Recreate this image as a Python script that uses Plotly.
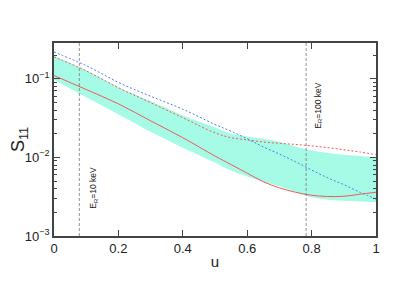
import math
import plotly.graph_objects as go

u_band = [0, 0.1, 0.2, 0.3, 0.4, 0.5, 0.55, 0.6, 0.65, 0.7, 0.75, 0.8, 0.85, 0.9, 0.95, 1.0]
band_top = [0.195, 0.128, 0.078, 0.052, 0.034, 0.024, 0.0200, 0.0185, 0.0172, 0.0158, 0.0138, 0.0122, 0.0114, 0.0108, 0.0104, 0.0100]
band_bot = [0.097, 0.058, 0.0355, 0.0212, 0.0133, 0.0086, 0.0068, 0.0057, 0.0049, 0.0043, 0.0036, 0.0031, 0.0029, 0.0028, 0.00275, 0.0027]

u_line = [0, 0.1, 0.2, 0.3, 0.4, 0.5, 0.55, 0.6, 0.65, 0.7, 0.75, 0.8, 0.85, 0.9, 0.95, 1.0]
red_solid = [0.110, 0.073, 0.048, 0.0292, 0.0178, 0.0104, 0.0081, 0.0063, 0.0049, 0.0041, 0.0036, 0.0033, 0.00318, 0.0032, 0.0034, 0.0036]
red_dash = [0.190, 0.126, 0.077, 0.0497, 0.032, 0.0205, 0.0178, 0.0167, 0.0157, 0.0151, 0.0146, 0.0140, 0.0133, 0.0125, 0.0117, 0.0108]
blue_dash = [0.219, 0.147, 0.090, 0.060, 0.041, 0.0262, 0.0215, 0.0172, 0.0136, 0.0110, 0.0088, 0.0069, 0.0055, 0.0045, 0.0036, 0.00295]

vlines = [0.0787, 0.783]
vlabels = ["E<sub>R</sub>=10 keV", "E<sub>R</sub>=100 keV"]
label_pos = [(0.124, 0.0041), (0.819, 0.045)]

x_ticks = [0, 0.2, 0.4, 0.6, 0.8, 1]
x_labels = ["0", "0.2", "0.4", "0.6", "0.8", "1"]
y_ticks = [0.001, 0.01, 0.1]
y_labels = ["10<sup>−3</sup>", "10<sup>−2</sup>", "10<sup>−1</sup>"]

FONT = "Liberation Sans, Arial, sans-serif"

fig = go.Figure()
fig.add_trace(go.Scatter(x=u_band, y=band_bot, mode="lines", line=dict(width=0, color="#a5fbe5"),
                         line_shape="spline", showlegend=False, hoverinfo="skip"))
fig.add_trace(go.Scatter(x=u_band, y=band_top, mode="lines", line=dict(width=0, color="#a5fbe5"),
                         line_shape="spline", fill="tonexty", fillcolor="#a5fbe5", showlegend=False, hoverinfo="skip"))
fig.add_trace(go.Scatter(x=u_line, y=blue_dash, mode="lines", line=dict(color="#4f7fe8", width=1, dash="2px,2px"),
                         line_shape="spline", showlegend=False))
fig.add_trace(go.Scatter(x=u_line, y=red_dash, mode="lines", line=dict(color="#f05a5a", width=1, dash="2px,2px"),
                         line_shape="spline", showlegend=False))
fig.add_trace(go.Scatter(x=u_line, y=red_solid, mode="lines", line=dict(color="#f05a5a", width=1),
                         line_shape="spline", showlegend=False))

for xv in vlines:
    fig.add_shape(type="line", x0=xv, x1=xv, y0=0, y1=1, xref="x", yref="paper",
                  line=dict(color="#777777", width=0.8, dash="3px,2px"))
for (xp, yp), txt in zip(label_pos, vlabels):
    fig.add_annotation(x=xp, y=math.log10(yp), yref="y", xref="x", text=txt, showarrow=False, textangle=-90,
                       font=dict(size=8.5, color="#222222", family=FONT))

axis_common = dict(showline=True, linecolor="#444444", linewidth=1.5, mirror="allticks",
                   ticks="inside", tickcolor="#444444", showgrid=False, zeroline=False, automargin=False,
                   tickfont=dict(size=13, color="#222222", family=FONT))

fig.update_xaxes(range=[0, 1], tickvals=x_ticks, ticktext=x_labels, ticklen=6, tickwidth=1.2,
                 title=dict(text="u", font=dict(size=15, color="#222222", family=FONT), standoff=1),
                 **axis_common)
fig.update_yaxes(type="log", range=[-3, -0.545], tickvals=y_ticks, ticktext=y_labels, ticklen=6, tickwidth=1.2,
                 minor=dict(ticks="inside", ticklen=3, tickcolor="#444444", dtick="D1", showgrid=False),
                 title=dict(text="S<sub>11</sub>", font=dict(size=18, color="#222222", family=FONT), standoff=2),
                 **axis_common)

fig.update_layout(width=407, height=282, margin=dict(l=46, r=39, t=35, b=54),
                  paper_bgcolor="white", plot_bgcolor="white")

fig.write_html("out.html")
